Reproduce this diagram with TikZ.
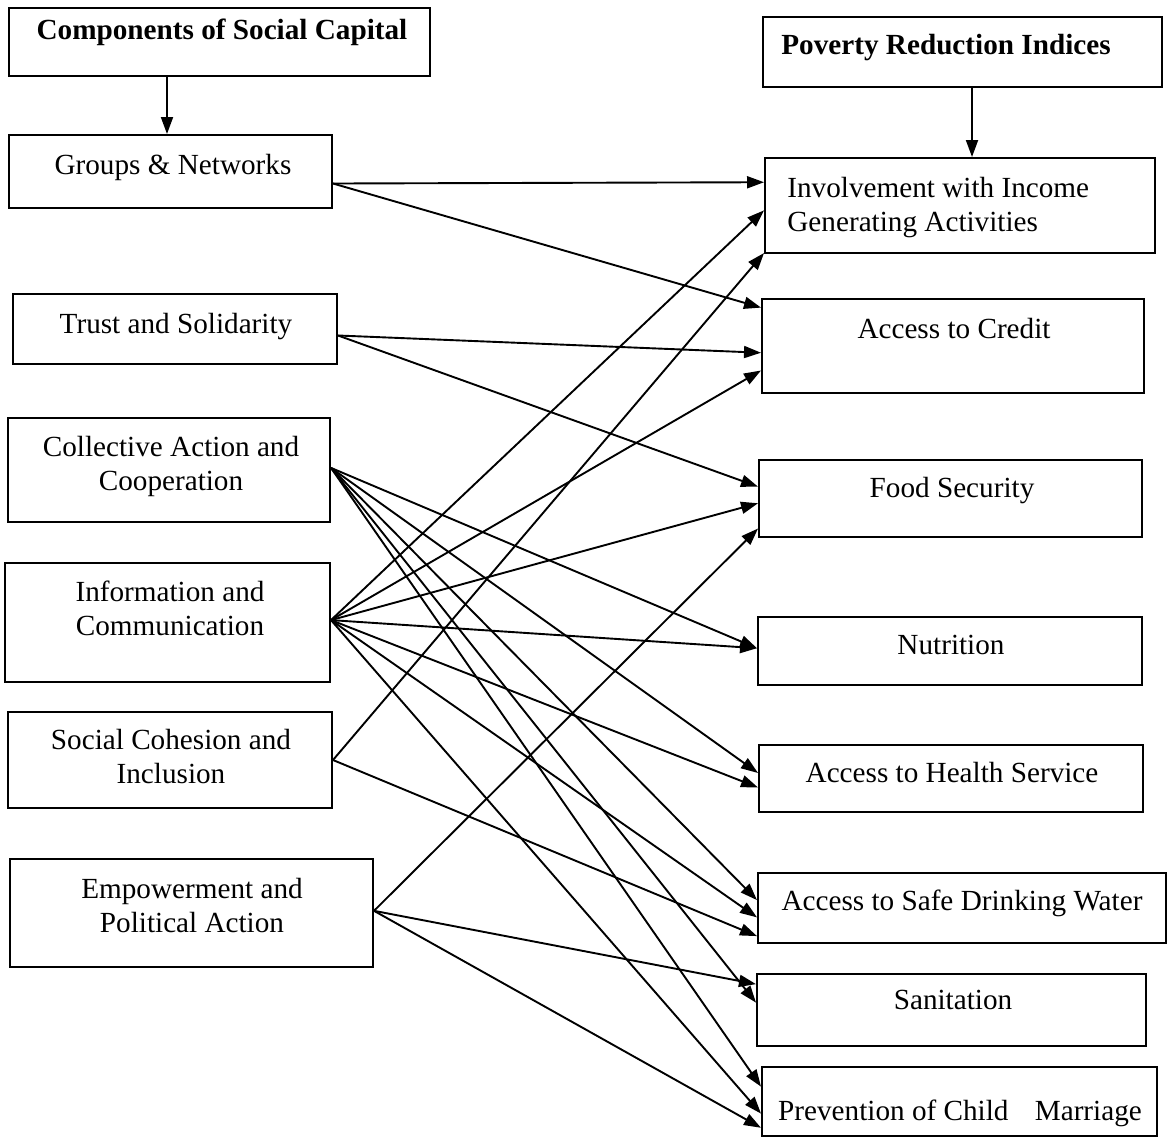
\documentclass[tikz,border=0pt]{standalone}
\usepackage{fontspec}
\setmainfont{Liberation Serif}
\usetikzlibrary{arrows.meta,calc,fit}
\begin{document}
\begin{tikzpicture}[x=0.5pt,y=-0.5pt,
  box/.style={draw, line width=1pt, inner sep=0pt},
  txt/.style={font=\fontsize{14.6}{17}\selectfont, inner sep=0pt, align=center},
  arr/.style={draw, line width=0.95pt, -{Triangle[length=8.5pt,width=6pt]}},
]
\useasboundingbox (0,0) rectangle (1170,1137);

% left column boxes
\node[box, fit={(9,8) (430,76)}] (comp) {};
\node[box, fit={(9,135) (332,208)}] (G) {};
\node[box, fit={(13,294) (337,364)}] (T) {};
\node[box, fit={(8,418) (330,522)}] (C) {};
\node[box, fit={(5,563) (330,682)}] (I) {};
\node[box, fit={(8,712) (332,808)}] (S) {};
\node[box, fit={(10,859) (373,967)}] (E) {};

% right column boxes
\node[box, fit={(763,17) (1162,87)}] (pov) {};
\node[box, fit={(765,158) (1155,253)}] (inv) {};
\node[box, fit={(762,299) (1144,393)}] (cred) {};
\node[box, fit={(759,460) (1142,537)}] (food) {};
\node[box, fit={(758,617) (1142,685)}] (nut) {};
\node[box, fit={(759,745) (1143,812)}] (hea) {};
\node[box, fit={(758,873) (1166,943)}] (wat) {};
\node[box, fit={(757,974) (1146,1046)}] (san) {};
\node[box, fit={(762,1067) (1157,1136)}] (prev) {};

% texts
\node[txt, font=\fontsize{14.6}{17}\selectfont\bfseries] (compt) at (222,32) {Components of Social Capital};
\node[txt] (Gt) at (173,167) {Groups \& Networks};
\node[txt] (Tt) at (176,327) {Trust and Solidarity};
\node[txt] (Ct) at (171,466) {Collective Action and\\Cooperation};
\node[txt] (It) at (170,608) {Information and\\Communication};
\node[txt] (St) at (171,756) {Social Cohesion and\\Inclusion};
\node[txt] (Et) at (192,905) {Empowerment and\\Political Action};

\node[txt, font=\fontsize{14.6}{17}\selectfont\bfseries] (povt) at (946,48) {Poverty Reduction Indices};
\node[txt, align=left, anchor=west] (invt) at (787,208) {Involvement with Income\\Generating Activities};
\node[txt] (credt) at (954,328) {Access to Credit};
\node[txt] (foodt) at (952,491) {Food Security};
\node[txt] (nutt) at (951,645) {Nutrition};
\node[txt] (heat) at (952,772) {Access to Health Service};
\node[txt] (watt) at (962,903) {Access to Safe Drinking Water};
\node[txt] (sant) at (953,1000) {Sanitation};
\node[txt] (prevt) at (960,1113) {Prevention of Child\hspace{0.9em}Marriage};

% header arrows
\draw[arr] (comp.south -| 167,0) -- (G.north -| 167,0);
\draw[arr] (pov.south -| 972,0) -- (inv.north -| 972,0);

% connectors
\foreach \s/\a/\t/\b in {
  G/0.66/inv/0.26, G/0.66/cred/0.10,
  T/0.59/cred/0.57, T/0.59/food/0.35,
  C/0.48/nut/0.46, C/0.48/hea/0.42, C/0.48/wat/0.39, C/0.48/san/0.40, C/0.48/prev/0.29,
  I/0.48/inv/0.55, I/0.48/cred/0.755, I/0.48/food/0.56, I/0.48/nut/0.46,
  I/0.48/hea/0.63, I/0.48/wat/0.63, I/0.48/prev/0.67,
  S/0.5/inv/0.99, S/0.5/wat/0.89,
  E/0.48/food/0.88, E/0.48/san/0.15, E/0.48/prev/0.87}
  \draw[arr] ($(\s.north east)!\a!(\s.south east)$) -- ($(\t.north west)!\b!(\t.south west)$);
\end{tikzpicture}
\end{document}
